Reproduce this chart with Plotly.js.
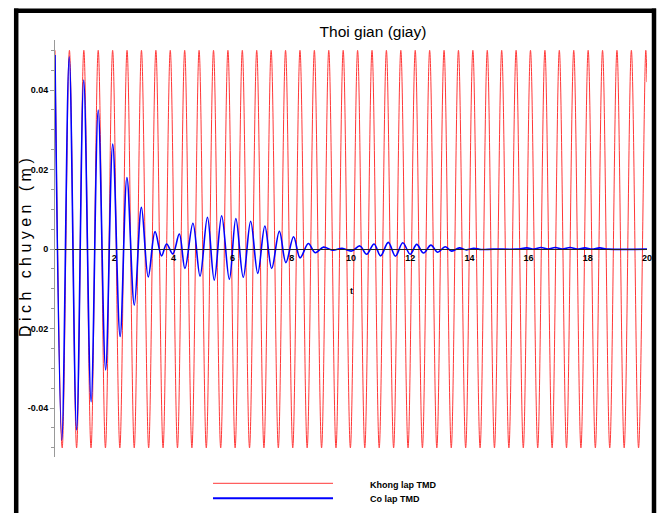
<!DOCTYPE html>
<html>
<head>
<meta charset="utf-8">
<script src="https://cdn.plot.ly/plotly-3.0.1.min.js"></script>
<style>html,body{margin:0;padding:0;background:#fff;}#chart{width:659px;height:513px;}</style>
</head>
<body>
<div id="chart"></div>
<script>
// Red: without TMD ("Khong lap TMD") - extrema
const redT = [0,0.243,0.487,0.730,0.974,1.217,1.460,1.704,1.947,2.191,2.434,2.677,2.921,3.164,3.408,3.651,3.894,4.138,4.381,4.625,4.868,5.111,5.355,5.598,5.842,6.085,6.328,6.572,6.815,7.059,7.302,7.545,7.789,8.032,8.276,8.519,8.762,9.006,9.249,9.493,9.736,9.979,10.223,10.466,10.710,10.953,11.196,11.440,11.683,11.927,12.170,12.413,12.657,12.900,13.144,13.387,13.630,13.874,14.117,14.361,14.604,14.847,15.091,15.334,15.578,15.821,16.064,16.308,16.551,16.795,17.038,17.281,17.525,17.768,18.012,18.255,18.498,18.742,18.985,19.229,19.472,19.715,19.959,20.0];
const redY = [0.05,-0.05,0.05,-0.05,0.05,-0.05,0.05,-0.05,0.05,-0.05,0.05,-0.05,0.05,-0.05,0.05,-0.05,0.05,-0.05,0.05,-0.05,0.05,-0.05,0.05,-0.05,0.05,-0.05,0.05,-0.05,0.05,-0.05,0.05,-0.05,0.05,-0.05,0.05,-0.05,0.05,-0.05,0.05,-0.05,0.05,-0.05,0.05,-0.05,0.05,-0.05,0.05,-0.05,0.05,-0.05,0.05,-0.05,0.05,-0.05,0.05,-0.05,0.05,-0.05,0.05,-0.05,0.05,-0.05,0.05,-0.05,0.05,-0.05,0.05,-0.05,0.05,-0.05,0.05,-0.05,0.05,-0.05,0.05,-0.05,0.05,-0.05,0.05,-0.05,0.05,-0.05,0.05,0.042];

// Blue: with TMD ("Co lap TMD") - extrema
const blueT = [0,0.23,0.48,0.73,0.97,1.22,1.46,1.71,1.95,2.20,2.43,2.68,2.92,3.15,3.38,3.60,3.77,3.98,4.20,4.39,4.66,4.90,5.15,5.38,5.63,5.89,6.11,6.36,6.61,6.85,7.09,7.32,7.58,7.80,8.06,8.28,8.56,8.79,9.07,9.38,9.70,10.02,10.30,10.53,10.78,11.00,11.26,11.50,11.75,12.00,12.22,12.45,12.70,12.93,13.18,13.40,13.66,13.90,14.15,14.40,14.80,15.60,15.94,16.18,16.42,16.66,16.90,17.14,17.40,17.64,17.90,18.14,18.40,18.70,20.0];
const blueY = [0.0488,-0.048,0.0484,-0.0455,0.0425,-0.0384,0.035,-0.0304,0.0264,-0.022,0.018,-0.0141,0.0105,-0.007,0.0044,-0.0017,0.0013,-0.0012,0.0038,-0.0049,0.0065,-0.0068,0.008,-0.0078,0.0084,-0.0076,0.0077,-0.0071,0.007,-0.0061,0.0058,-0.0049,0.0045,-0.0034,0.0031,-0.0022,0.0014,-0.0009,0.0005,-0.0003,0.0002,-0.0005,0.0008,-0.0013,0.0013,-0.0017,0.0017,-0.0018,0.0016,-0.0013,0.0012,-0.001,0.001,-0.0008,0.0006,-0.0005,0.0003,-0.0002,0.0002,-0.0001,0,0,0.0003,0,0.0004,0,0.0004,0,0.0004,0,0.0003,0,0.0003,0,0];

const xTicks = [2,4,6,8,10,12,14,16,18,20];
const yTicks = [-0.04,-0.02,0,0.02,0.04];
const yTickText = ['-0.04','-0.02','0','0.02','0.04'];
const seriesNames = ['Khong lap TMD','Co lap TMD'];
const seriesColors = ['rgb(255,55,55)','rgb(0,0,255)'];

const narrow = 'Liberation Sans Narrow, Arial Narrow, Liberation Sans, Arial, sans-serif';
const tickFont = {family:narrow, size:9, color:'#000', weight:'bold'};

const traces = [
  {x: redT, y: redY, type:'scatter', mode:'lines', name: seriesNames[0], showlegend:false,
   line:{color:seriesColors[0], width:1, shape:'spline', smoothing:1}},
  {x: blueT, y: blueY, type:'scatter', mode:'lines', name: seriesNames[1], showlegend:false,
   line:{color:seriesColors[1], width:1.6, shape:'spline', smoothing:1}}
];

// pixel -> paper helpers for the plot area (l=55, r=12, t=40, b=56)
const PX = px => (px - 55) / 592;
const PY = py => (457 - py) / 417;

const layout = {
  width:659, height:513,
  margin:{l:55, r:12, t:40, b:56, pad:0, autoexpand:false},
  paper_bgcolor:'#fff', plot_bgcolor:'#fff',
  title:{text:'Thoi gian (giay)', x:373/659, xref:'container', xanchor:'center',
         y:1-32/513, yref:'container', yanchor:'middle',
         font:{family:'Liberation Sans, Arial, sans-serif', size:15.5, color:'#000'}},
  xaxis:{range:[0,20], tickvals:xTicks, ticktext:xTicks.map(String),
         anchor:'free', position:0.5, showline:true, linecolor:'#222', linewidth:1.5,
         showgrid:false, zeroline:false, ticks:'', automargin:false,
         tickfont:tickFont},
  yaxis:{range:[-0.0523,0.0526], tickvals:yTicks, ticktext:yTickText, automargin:false,
         showline:true, linecolor:'#999', linewidth:1, showgrid:false,
         zeroline:false, ticks:'outside', ticklen:4, tickcolor:'#999',
         minor:{dtick:0.005, ticks:'outside', ticklen:3, tickcolor:'#999'},
         tickfont:tickFont},
  showlegend:false,
  annotations:[
    {x:PX(25), y:PY(248), xref:'paper', yref:'paper', text:'D i c h   c h u y e n   ( m )',
     textangle:-90, showarrow:false, xanchor:'center', yanchor:'middle',
     font:{family:'Liberation Sans, Arial, sans-serif', size:16, color:'#000'}},
    {x:10, y:-0.0106, xref:'x', yref:'y', text:'t', showarrow:false,
     font:{family:narrow, size:9, color:'#000', weight:'bold'}},
    {x:PX(368), y:PY(485), xref:'paper', yref:'paper', text:seriesNames[0], showarrow:false,
     xanchor:'left', yanchor:'middle', font:{family:narrow, size:9, color:'#000', weight:'bold'}},
    {x:PX(368), y:PY(499), xref:'paper', yref:'paper', text:seriesNames[1], showarrow:false,
     xanchor:'left', yanchor:'middle', font:{family:narrow, size:9, color:'#000', weight:'bold'}}
  ],
  shapes:[
    {type:'line', xref:'paper', yref:'paper', x0:PX(213), x1:PX(333), y0:PY(483.3), y1:PY(483.3), line:{color:seriesColors[0], width:1}},
    {type:'line', xref:'paper', yref:'paper', x0:PX(213), x1:PX(333), y0:PY(498.3), y1:PY(498.3), line:{color:seriesColors[1], width:2}},
    {type:'line', xref:'paper', yref:'paper', x0:PX(16.2), x1:PX(16.2), y0:PY(8.6), y1:PY(530), line:{color:'#000', width:4.5}},
    {type:'line', xref:'paper', yref:'paper', x0:PX(14), x1:PX(656), y0:PY(10.8), y1:PY(10.8), line:{color:'#000', width:4.5}},
    {type:'line', xref:'paper', yref:'paper', x0:PX(654), x1:PX(654), y0:PY(8.6), y1:PY(530), line:{color:'#000', width:4.5}}
  ]
};

Plotly.newPlot('chart', traces, layout, {displayModeBar:false, staticPlot:true});
</script>
</body>
</html>
